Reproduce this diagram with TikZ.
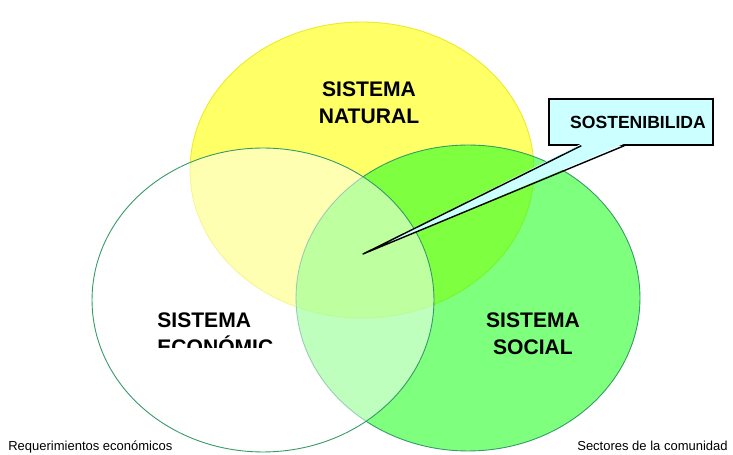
\documentclass[tikz,border=0pt]{standalone}
\usepackage{fontspec}
\setmainfont{Liberation Sans}
\usepackage{tikz}
\usetikzlibrary{positioning,calc}
\definecolor{natfill}{RGB}{255,255,102}
\definecolor{natline}{RGB}{235,235,40}
\definecolor{socfill}{RGB}{40,255,40}
\definecolor{setline}{RGB}{51,153,102}
\definecolor{calloutfill}{RGB}{204,255,255}
\tikzset{
    natural/.style={
        fill=natfill,
        draw=natline,
        line width=0.5pt
    },
    social/.style={
        fill=socfill,
        fill opacity=0.6,
        draw=setline,
        line width=0.5pt
    },
    economic/.style={
        fill=white,
        fill opacity=0.5,
        draw=setline,
        line width=0.5pt
    },
    settext/.style={
        font=\fontsize{12}{15.5}\selectfont\bfseries,
        align=center,
        inner sep=0pt
    },
    callout/.style={
        draw,
        line width=0.8pt,
        fill=calloutfill,
        minimum width=3.28cm,
        minimum height=0.92cm,
        font=\fontsize{10}{12}\selectfont\bfseries
    },
    note/.style={
        font=\fontsize{7.4}{9}\selectfont,
        inner sep=0pt
    }
}
\newcommand{\setname}[1]{SISTEMA\\#1}

\begin{document}
\begin{tikzpicture}[x=0.02cm, y=-0.02cm]
        \path[use as bounding box, fill=white] (0,0) rectangle (733,455);

        % the three systems
        \draw[natural] (362,170) ellipse [x radius=3.44cm, y radius=2.96cm];
        \draw[social] (468,298) ellipse [x radius=3.44cm, y radius=3.06cm];
        \draw[economic] (263,300) ellipse [x radius=3.42cm, y radius=3.04cm];

        \node[settext] (nat) at (369,103) {\setname{NATURAL}};
        \node[settext] (soc) at (533,334) {\setname{SOCIAL}};
        \begin{scope}
            \clip (140,295) rectangle (300,348);
            \node[settext, align=left, anchor=north west] (eco) at (157,312) {\setname{ECONÓMIC}};
        \end{scope}

        % callout
        \node[callout] (sost) at (631,122) {\hspace*{0.28cm}SOSTENIBILIDA};
        \coordinate (tip) at (363,254);
        \coordinate (b1) at ($(sost.south west)+(33,-2)$);
        \coordinate (b2) at ($(sost.south west)+(76,-2)$);
        \fill[calloutfill] (b1) -- (tip) -- (b2) -- cycle;
        \draw[line width=0.8pt, line join=round] (b1 |- sost.south) -- (tip) -- (b2 |- sost.south);

        \node[note, anchor=base west] (req) at (8,450) {Requerimientos económicos};
        \node[note, anchor=base east] (sec) at (728,450) {Sectores de la comunidad};
    \end{tikzpicture}
\end{document}
